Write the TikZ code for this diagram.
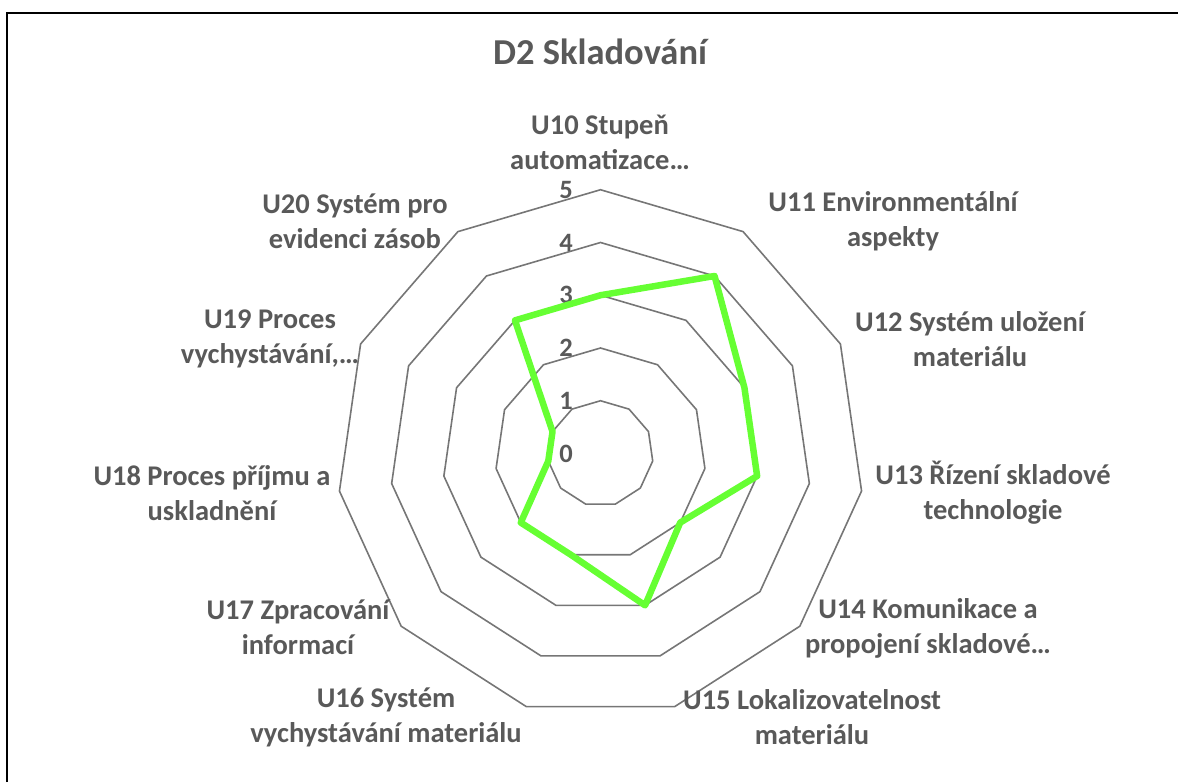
\documentclass[tikz,border=0pt]{standalone}
\usepackage{fontspec}
\setmainfont{Carlito}
\usetikzlibrary{calc}
\definecolor{txtgray}{RGB}{89,89,89}
\definecolor{gridgray}{RGB}{118,118,118}
\definecolor{seriesgreen}{RGB}{102,255,51}
\begin{document}
\begin{tikzpicture}[x=1pt,y=1pt,
  gridline/.style={draw=gridgray,line width=1.6pt,line join=round},
  dataline/.style={draw=seriesgreen,line width=6.5pt,line join=round},
  axislabel/.style={text=txtgray,font=\fontsize{28.5}{35}\selectfont\bfseries,align=center,inner sep=0pt},
  ticklabel/.style={text=txtgray,font=\fontsize{26.5}{30}\selectfont\bfseries,inner sep=0pt},
  titlelabel/.style={text=txtgray,font=\fontsize{36.5}{44}\selectfont\bfseries,inner sep=0pt}]
\useasboundingbox (0,0) rectangle (1178,782);
% frame (left and top edges)
\draw[line width=1.5pt] (7,0) -- (7,769) -- (1178,769);
% chart centre and unit radius
\def\u{52.75}
\coordinate (c) at (600.5,328.5);
% concentric grid polygons, levels 1..5
\foreach \l in {1,...,5}{
  \draw[gridline] ($(c)+(90:\l*\u)$)
    \foreach \i in {1,...,10}{ -- ($(c)+(90-\i*360/11:\l*\u)$) } -- cycle;
}
% scale values
\foreach \k in {0,...,5}{
  \node[ticklabel] (t\k) at ($(566,328.5)+(0,\k*\u)$) {\k};
}
% series values
\foreach \v [count=\i from 0] in {3,4,3,3,2,3,2,2,1,1,3}{
  \coordinate (d\i) at ($(c)+(90-\i*360/11:\v*\u)$);
}
\draw[dataline] (d0) -- (d1) -- (d2) -- (d3) -- (d4) -- (d5) -- (d6)
  -- (d7) -- (d8) -- (d9) -- (d10) -- cycle;
% title
\node[titlelabel,anchor=base] (title) at (600,717) {D2 Skladování};
% category labels
\node[axislabel] (u10) at (600,640) {U10 Stupeň\\automatizace…};
\node[axislabel] (u11) at (893,561) {U11 Environmentální\\aspekty};
\node[axislabel] (u12) at (970,443) {U12 Systém uložení\\materiálu};
\node[axislabel] (u13) at (993,289) {U13 Řízení skladové\\technologie};
\node[axislabel] (u14) at (928,154) {U14 Komunikace a\\propojení skladové…};
\node[axislabel] (u15) at (812,65) {U15 Lokalizovatelnost\\materiálu};
\node[axislabel] (u16) at (386,65) {U16 Systém\\vychystávání materiálu};
\node[axislabel] (u17) at (298,155) {U17 Zpracování\\informací};
\node[axislabel] (u18) at (212,289) {U18 Proces příjmu a\\uskladnění};
\node[axislabel] (u19) at (270,443) {U19 Proces\\vychystávání,…};
\node[axislabel] (u20) at (355,561) {U20 Systém pro\\evidenci zásob};
\end{tikzpicture}
\end{document}
